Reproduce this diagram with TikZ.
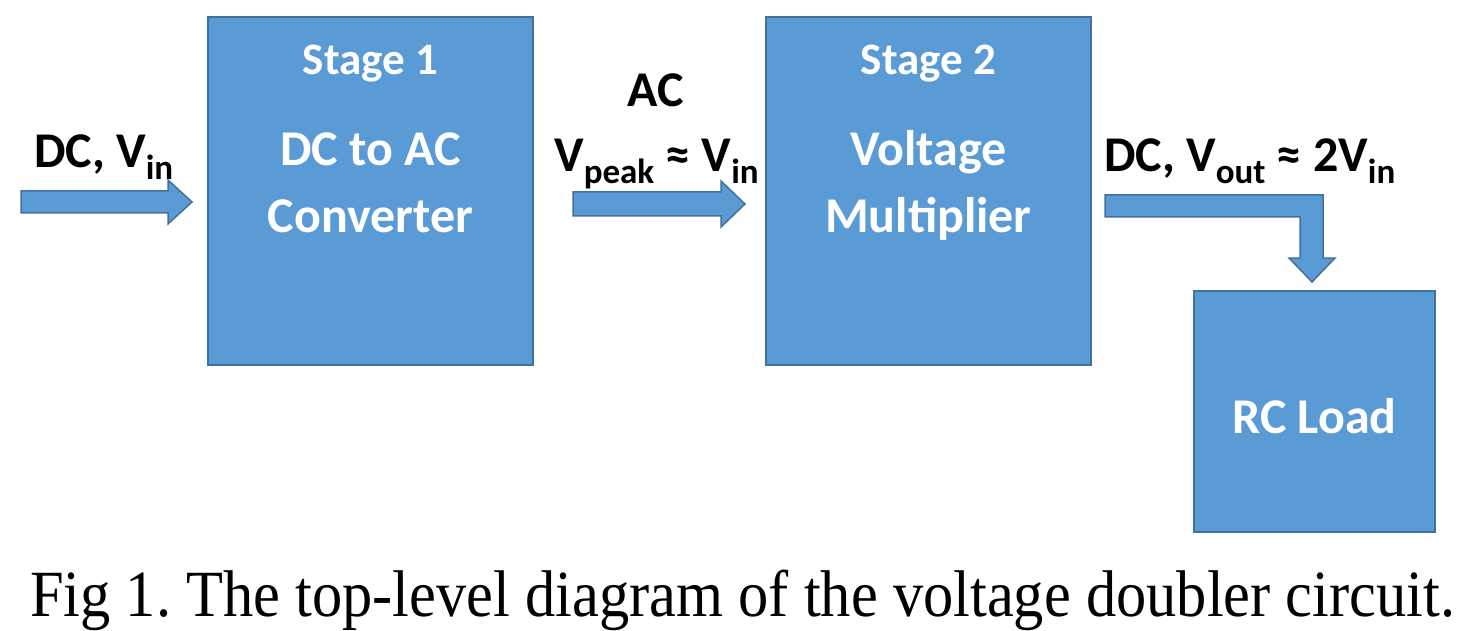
\documentclass[tikz,border=0pt]{standalone}
\usepackage{fontspec}
\usepackage{graphicx}
\setmainfont{Carlito}
\newfontfamily\capfont{Liberation Serif}
\definecolor{boxfill}{HTML}{5B9BD5}
\definecolor{boxline}{HTML}{41719C}
\newcommand{\sbs}[1]{\raisebox{-0.24em}{\fontsize{35}{35}\selectfont #1}}
\frenchspacing
\begin{document}
\begin{tikzpicture}[x=1pt,y=-1pt,
  blk/.style={draw=boxline,line width=2.5pt,fill=boxfill},
  barrow/.style={draw=boxline,line width=1.5pt,fill=boxfill,line join=miter},
  boxtxt/.style={text=white,font=\bfseries\fontsize{50}{56}\selectfont,anchor=base,inner sep=0pt},
  stagetxt/.style={text=white,font=\bfseries\fontsize{45}{50}\selectfont,anchor=base,inner sep=0pt},
  lbl/.style={text=black,font=\bfseries\fontsize{50}{56}\selectfont,anchor=base,inner sep=0pt}]
\useasboundingbox (0,0) rectangle (1467,631);
% boxes
\draw[blk] (208,17) rectangle (533,365);
\draw[blk] (766,17) rectangle (1091,365);
\draw[blk] (1194,291) rectangle (1435,532);
\node[stagetxt] (s1) at (370.5,75) {Stage 1};
\node[boxtxt] (t1a) at (370.5,166) {DC to AC};
\node[boxtxt] (t1b) at (370.5,233) {Converter};
\node[stagetxt] (s2) at (928.5,75) {Stage 2};
\node[boxtxt] (t2a) at (928.5,166) {Voltage};
\node[boxtxt] (t2b) at (928.5,233) {Multiplier};
\node[boxtxt] (t3) at (1314.5,433) {RC Load};
% arrows
\draw[barrow] (21,191) -- (168,191) -- (168,180) -- (192,202) -- (168,224) -- (168,213) -- (21,213) -- cycle;
\draw[barrow] (573,192) -- (721,192) -- (721,181) -- (745,204) -- (721,227) -- (721,216) -- (573,216) -- cycle;
\draw[barrow] (1105,195) -- (1323,195) -- (1323,258) -- (1335,258) -- (1312,282) -- (1289,258) -- (1300,258) -- (1300,217) -- (1105,217) -- cycle;
% labels
\node[lbl,anchor=base west] (l1) at (34,168) {DC, V\sbs{in}};
\node[lbl] (l2) at (656,107) {AC};
\node[lbl,anchor=base west] (l3) at (554,172) {V\sbs{peak} ≈ V\sbs{in}};
\node[lbl,anchor=base west] (l4) at (1104,172) {DC, V\sbs{out} ≈ 2V\sbs{in}};
% caption
\node[anchor=base west,inner sep=0pt,font=\capfont\fontsize{66}{70}\selectfont] (cap) at (30,616) {\resizebox{1425pt}{\height}{Fig 1. The top-level diagram of the voltage doubler circuit.}};
\end{tikzpicture}
\end{document}
